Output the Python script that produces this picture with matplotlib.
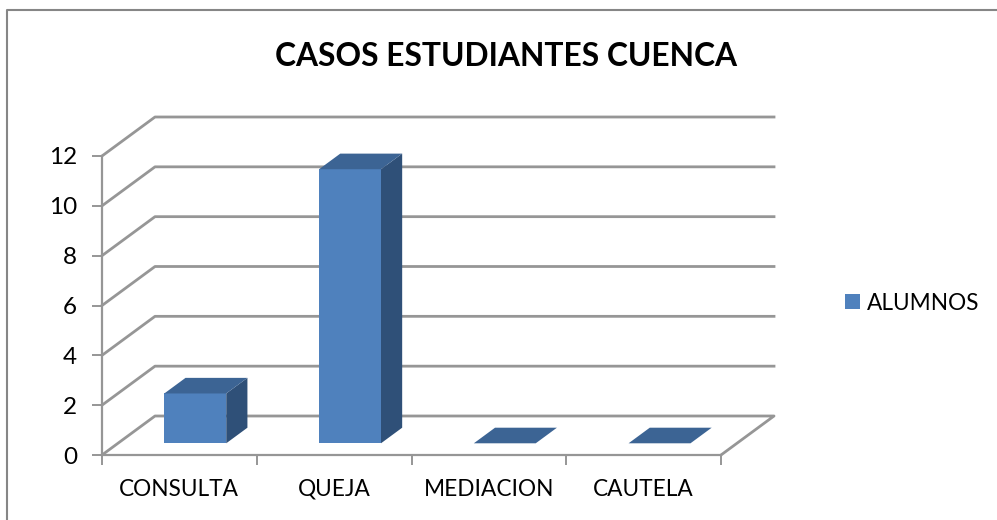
import numpy as np
import matplotlib
matplotlib.use("Agg")
import matplotlib.pyplot as plt
from matplotlib.lines import Line2D
from matplotlib.patches import Polygon, Patch, Rectangle

categories = ["CONSULTA", "QUEJA", "MEDIACION", "CAUTELA"]
alumnos = [2, 11, 0, 0]
y_ticks = [0, 2, 4, 6, 8, 10, 12]
title = "CASOS ESTUDIANTES CUENCA"
series_name = "ALUMNOS"

FRONT = "#4f81bd"
TOP = "#3c6494"
SIDE = "#2f5078"
GRID = "#969696"

plt.rcParams['font.family'] = ['Lato', 'DejaVu Sans']

W, H = 997, 520
fig = plt.figure(figsize=(W / 100, H / 100), dpi=100)
# the frame is cut off on the right and at the bottom, only two sides show
fig.add_artist(Line2D([7 / W, 7 / W, 1], [0, 1 - 10 / H, 1 - 10 / H], transform=fig.transFigure,
                      color="#868686", linewidth=1.5))

# front plane of the fake 3d box, pixels measured on the picture
ax = fig.add_axes([102 / W, 1 - 455 / H, 619 / W, 299 / H])
ax.set_xlim(0, 4)
ax.set_ylim(0, 12)

# depth of the box in data units
dx = 53 / (619 / 4)
dy = 39 / (299 / 12)

lw = 2.0
for v in y_ticks:
    if v == 0:
        ax.plot([0, dx, 4 + dx, 4], [0, dy, dy, 0], color=GRID, lw=lw, clip_on=False, zorder=1)
    else:
        ax.plot([0, dx, 4 + dx], [v, v + dy, v + dy], color=GRID, lw=lw, clip_on=False, zorder=1)

bar_w = 0.4
d0, d1 = 0.3, 0.7  # bar starts/ends at this fraction of the depth
for i, val in enumerate(alumnos):
    x0 = i + 0.3 + dx * d0
    x1 = x0 + bar_w
    y0 = dy * d0
    y1 = y0 + val
    ox = dx * (d1 - d0)
    oy = dy * (d1 - d0)
    if val > 0:
        ax.add_patch(Polygon([(x1, y0), (x1 + ox, y0 + oy), (x1 + ox, y1 + oy), (x1, y1)],
                             facecolor=SIDE, edgecolor="none", clip_on=False, zorder=3))
        ax.add_patch(Rectangle((x0, y0), bar_w, val, facecolor=FRONT, edgecolor="none",
                               clip_on=False, zorder=3))
    ax.add_patch(Polygon([(x0, y1), (x0 + ox, y1 + oy), (x1 + ox, y1 + oy), (x1, y1)],
                         facecolor=TOP, edgecolor="none", clip_on=False, zorder=3))

for s in ["top", "right"]:
    ax.spines[s].set_visible(False)
for s in ["left", "bottom"]:
    ax.spines[s].set_color(GRID)
    ax.spines[s].set_linewidth(1.6)

ax.set_yticks(y_ticks)
ax.set_xticks(range(5))
ax.set_xticklabels([])
ax.set_xticks(np.arange(4) + 0.5, categories, minor=True)
ax.tick_params(axis="both", which="major", length=7, width=1.4, color=GRID, labelsize=17.5, pad=11)
ax.tick_params(axis="x", which="minor", length=0, labelsize=16.3, pad=17)

fig.text(506 / W, 1 - 57 / H, title, fontsize=22.9, fontweight="bold", ha="center", va="center")

fig.legend(handles=[Patch(facecolor=FRONT, label=series_name)], loc="center left",
           bbox_to_anchor=(845 / W, 1 - 303 / H), frameon=False, fontsize=16.3,
           handlelength=0.65, handleheight=0.65, handletextpad=0.33, borderpad=0, borderaxespad=0)

fig.savefig("out.png", dpi=100)
